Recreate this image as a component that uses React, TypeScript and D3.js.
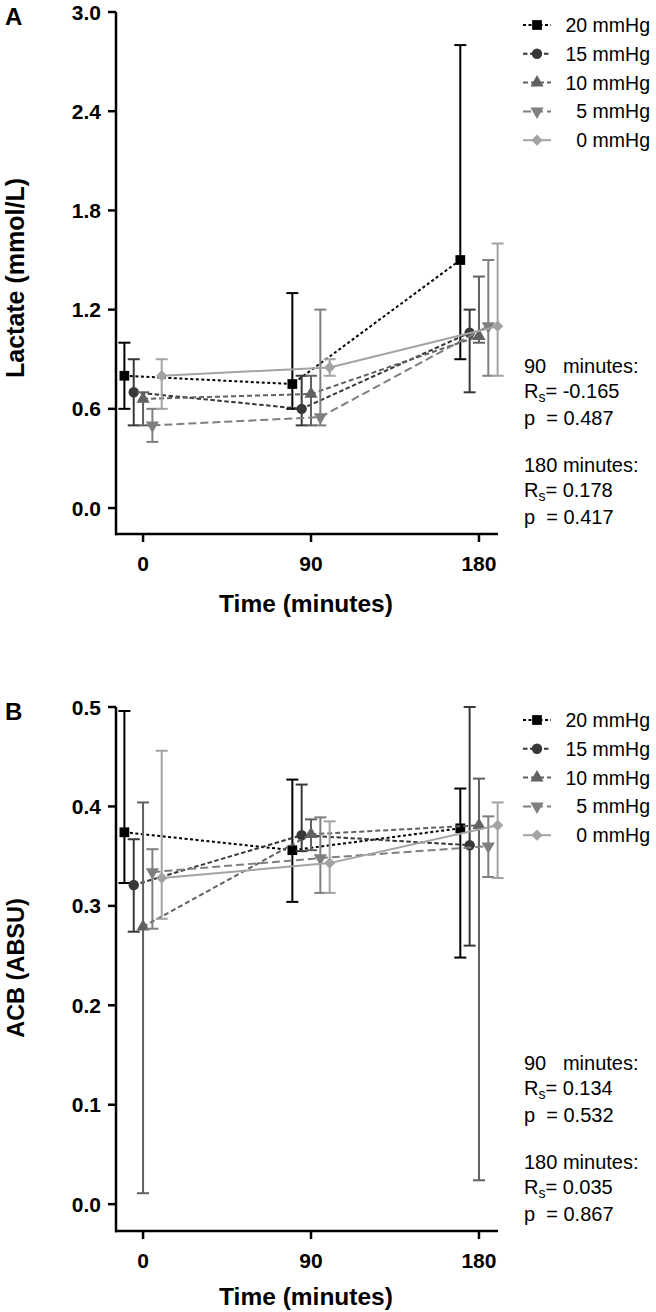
import React from "react";
import * as d3 from "d3";

const times = [0, 90, 180];
const seriesNames = ["20 mmHg", "15 mmHg", "10 mmHg", "5 mmHg", "0 mmHg"];
const seriesOffsets = [-10, -5, 0, 5, 10];

// Panel A: Lactate (mmol/L)
const lactateMean = [
  [0.8, 0.75, 1.5],
  [0.7, 0.6, 1.06],
  [0.66, 0.69, 1.04],
  [0.5, 0.55, 1.1],
  [0.8, 0.85, 1.1],
];
const lactateUpper = [
  [1.0, 1.3, 2.8],
  [0.9, 0.8, 1.2],
  [0.7, 0.8, 1.4],
  [0.6, 1.2, 1.5],
  [0.9, 0.9, 1.6],
];
const lactateLower = [
  [0.6, 0.6, 0.9],
  [0.5, 0.5, 0.7],
  [0.5, 0.5, 1.0],
  [0.4, 0.5, 0.8],
  [0.6, 0.8, 0.8],
];
const lactateTicks = [0.0, 0.6, 1.2, 1.8, 2.4, 3.0];

// Panel B: ACB (ABSU)
const acbMean = [
  [0.374, 0.356, 0.378],
  [0.321, 0.371, 0.361],
  [0.279, 0.372, 0.381],
  [0.334, 0.348, 0.36],
  [0.328, 0.343, 0.381],
];
const acbUpper = [
  [0.496, 0.427, 0.418],
  [0.367, 0.422, 0.5],
  [0.404, 0.387, 0.428],
  [0.357, 0.389, 0.39],
  [0.456, 0.385, 0.404],
];
const acbLower = [
  [0.323, 0.304, 0.248],
  [0.274, 0.355, 0.26],
  [0.011, 0.356, 0.024],
  [0.277, 0.313, 0.329],
  [0.287, 0.313, 0.328],
];
const acbTicks = [0.0, 0.1, 0.2, 0.3, 0.4, 0.5];

const xTicks = [0, 90, 180];

const statsA = [
  ["90\u00a0\u00a0\u00a0minutes:", "-0.165", "0.487"],
  ["180 minutes:", "0.178", "0.417"],
];
const statsB = [
  ["90\u00a0\u00a0\u00a0minutes:", "0.134", "0.532"],
  ["180 minutes:", "0.035", "0.867"],
];

const colors = ["#000000", "#383838", "#616161", "#7f7f7f", "#a3a3a3"];
const dashes = ["3,2.5", "4.5,2.5", "5,3", "8,4", ""];
const symbolTypes = [
  { t: d3.symbolSquare, s: 95, r: 0 },
  { t: d3.symbolCircle, s: 85, r: 0 },
  { t: d3.symbolTriangle, s: 75, r: 0 },
  { t: d3.symbolTriangle, s: 75, r: 180 },
  { t: d3.symbolSquare, s: 64, r: 45 },
];

const FONT = "'Liberation Sans', Arial, Helvetica, sans-serif";

function Marker({ i, x, y }: { i: number; x: number; y: number }) {
  const st = symbolTypes[i];
  const p = d3.symbol().type(st.t).size(st.s)() || "";
  return <path d={p} transform={`translate(${x},${y}) rotate(${st.r})`} fill={colors[i]} />;
}

function Panel({
  top, axisBottom, yDomain, yTop, ticks, tickFmt, mean, upper, lower, letter, yLabel, yLabelSize, labelY, legendTop, stats, statsBase, titleOffset,
}: any) {
  const x = d3.scaleLinear().domain([-14.5, 190.2]).range([116, 498]);
  const y = d3.scaleLinear().domain(yDomain).range([axisBottom, yTop]);
  const line = d3.line<[number, number]>().x((d) => d[0]).y((d) => d[1]);
  const cap = 6;
  return (
    <g>
      <text x={5} y={top + 13} fontFamily={FONT} fontWeight="bold" fontSize={24}>{letter}</text>
      {/* y axis */}
      <line x1={116} x2={116} y1={yTop} y2={axisBottom + 1.2} stroke="#000" strokeWidth={2.5} />
      {ticks.map((t: number) => (
        <g key={t}>
          <line x1={108} x2={116} y1={y(t)} y2={y(t)} stroke="#000" strokeWidth={2.5} />
          <text x={101} y={y(t)} dy="0.36em" textAnchor="end" fontFamily={FONT} fontWeight="bold" fontSize={21}>
            {tickFmt(t)}
          </text>
        </g>
      ))}
      {/* x axis */}
      <line x1={115} x2={498} y1={axisBottom} y2={axisBottom} stroke="#000" strokeWidth={2.5} />
      {xTicks.map((t) => (
        <g key={t}>
          <line x1={x(t)} x2={x(t)} y1={axisBottom} y2={axisBottom + 8} stroke="#000" strokeWidth={2.5} />
          <text x={x(t)} y={axisBottom + 37} textAnchor="middle" fontFamily={FONT} fontWeight="bold" fontSize={21}>
            {t}
          </text>
        </g>
      ))}
      <text x={306} y={axisBottom + titleOffset} textAnchor="middle" fontFamily={FONT} fontWeight="bold" fontSize={24.5}>
        Time (minutes)
      </text>
      <text
        transform={`translate(24,${labelY}) rotate(-90)`}
        textAnchor="middle"
        fontFamily={FONT}
        fontWeight="bold"
        fontSize={yLabelSize}
      >
        {yLabel}
      </text>
      {/* series */}
      {seriesNames.map((name, i) => {
        const pts: [number, number][] = times.map((t, j) => [x(t + seriesOffsets[i]), y(mean[i][j])]);
        return (
          <g key={name}>
            {times.map((t, j) => {
              const cx = x(t + seriesOffsets[i]);
              return (
                <g key={j} stroke={colors[i]} strokeWidth={2}>
                  <line x1={cx} x2={cx} y1={y(upper[i][j])} y2={y(lower[i][j])} />
                  <line x1={cx - cap} x2={cx + cap} y1={y(upper[i][j])} y2={y(upper[i][j])} />
                  <line x1={cx - cap} x2={cx + cap} y1={y(lower[i][j])} y2={y(lower[i][j])} />
                </g>
              );
            })}
            <path d={line(pts) || ""} fill="none" stroke={colors[i]} strokeWidth={2} strokeDasharray={dashes[i]} />
            {pts.map((p, j) => (
              <Marker key={j} i={i} x={p[0]} y={p[1]} />
            ))}
          </g>
        );
      })}
      {/* legend */}
      {seriesNames.map((name, i) => {
        const ly = legendTop + i * 28.8;
        return (
          <g key={name}>
            <line x1={523} x2={551} y1={ly} y2={ly} stroke={colors[i]} strokeWidth={2} strokeDasharray={dashes[i]} />
            <Marker i={i} x={537} y={ly} />
            <text x={650} y={ly} dy="0.36em" textAnchor="end" fontFamily={FONT} fontSize={19.5}>
              {name}
            </text>
          </g>
        );
      })}
      {/* stats */}
      {stats.map((s: string[], k: number) => {
        const b = statsBase + k * 99;
        return (
          <g key={k} fontFamily={FONT} fontSize={20}>
            <text x={524} y={b}>{s[0]}</text>
            <text x={524} y={b + 25}>
              R<tspan fontSize={14} dy={4}>s</tspan>
              <tspan dy={-4}>{"= " + s[1]}</tspan>
            </text>
            <text x={524} y={b + 52}>{"p\u00a0\u00a0= " + s[2]}</text>
          </g>
        );
      })}
    </g>
  );
}

export default function App() {
  return (
    <svg
      width={656}
      height={1312}
      style={{ position: "absolute", left: 0, top: 0, background: "#fff" }}
    >
      <rect width={656} height={1312} fill="#fff" />
      <Panel
        top={12}
        axisBottom={534}
        yTop={12}
        yDomain={[-0.157, 3.0]}
        ticks={lactateTicks}
        tickFmt={(t: number) => t.toFixed(1)}
        mean={lactateMean}
        upper={lactateUpper}
        lower={lactateLower}
        letter="A"
        yLabel="Lactate (mmol/L)"
        yLabelSize={25}
        labelY={278}
        legendTop={25}
        stats={statsA}
        statsBase={373}
        titleOffset={78}
      />
      <Panel
        top={707}
        axisBottom={1231}
        yTop={707}
        yDomain={[-0.027, 0.5]}
        ticks={acbTicks}
        tickFmt={(t: number) => t.toFixed(1)}
        mean={acbMean}
        upper={acbUpper}
        lower={acbLower}
        letter="B"
        yLabel="ACB (ABSU)"
        yLabelSize={23.5}
        labelY={968}
        legendTop={720}
        stats={statsB}
        statsBase={1070}
        titleOffset={74}
      />
    </svg>
  );
}
